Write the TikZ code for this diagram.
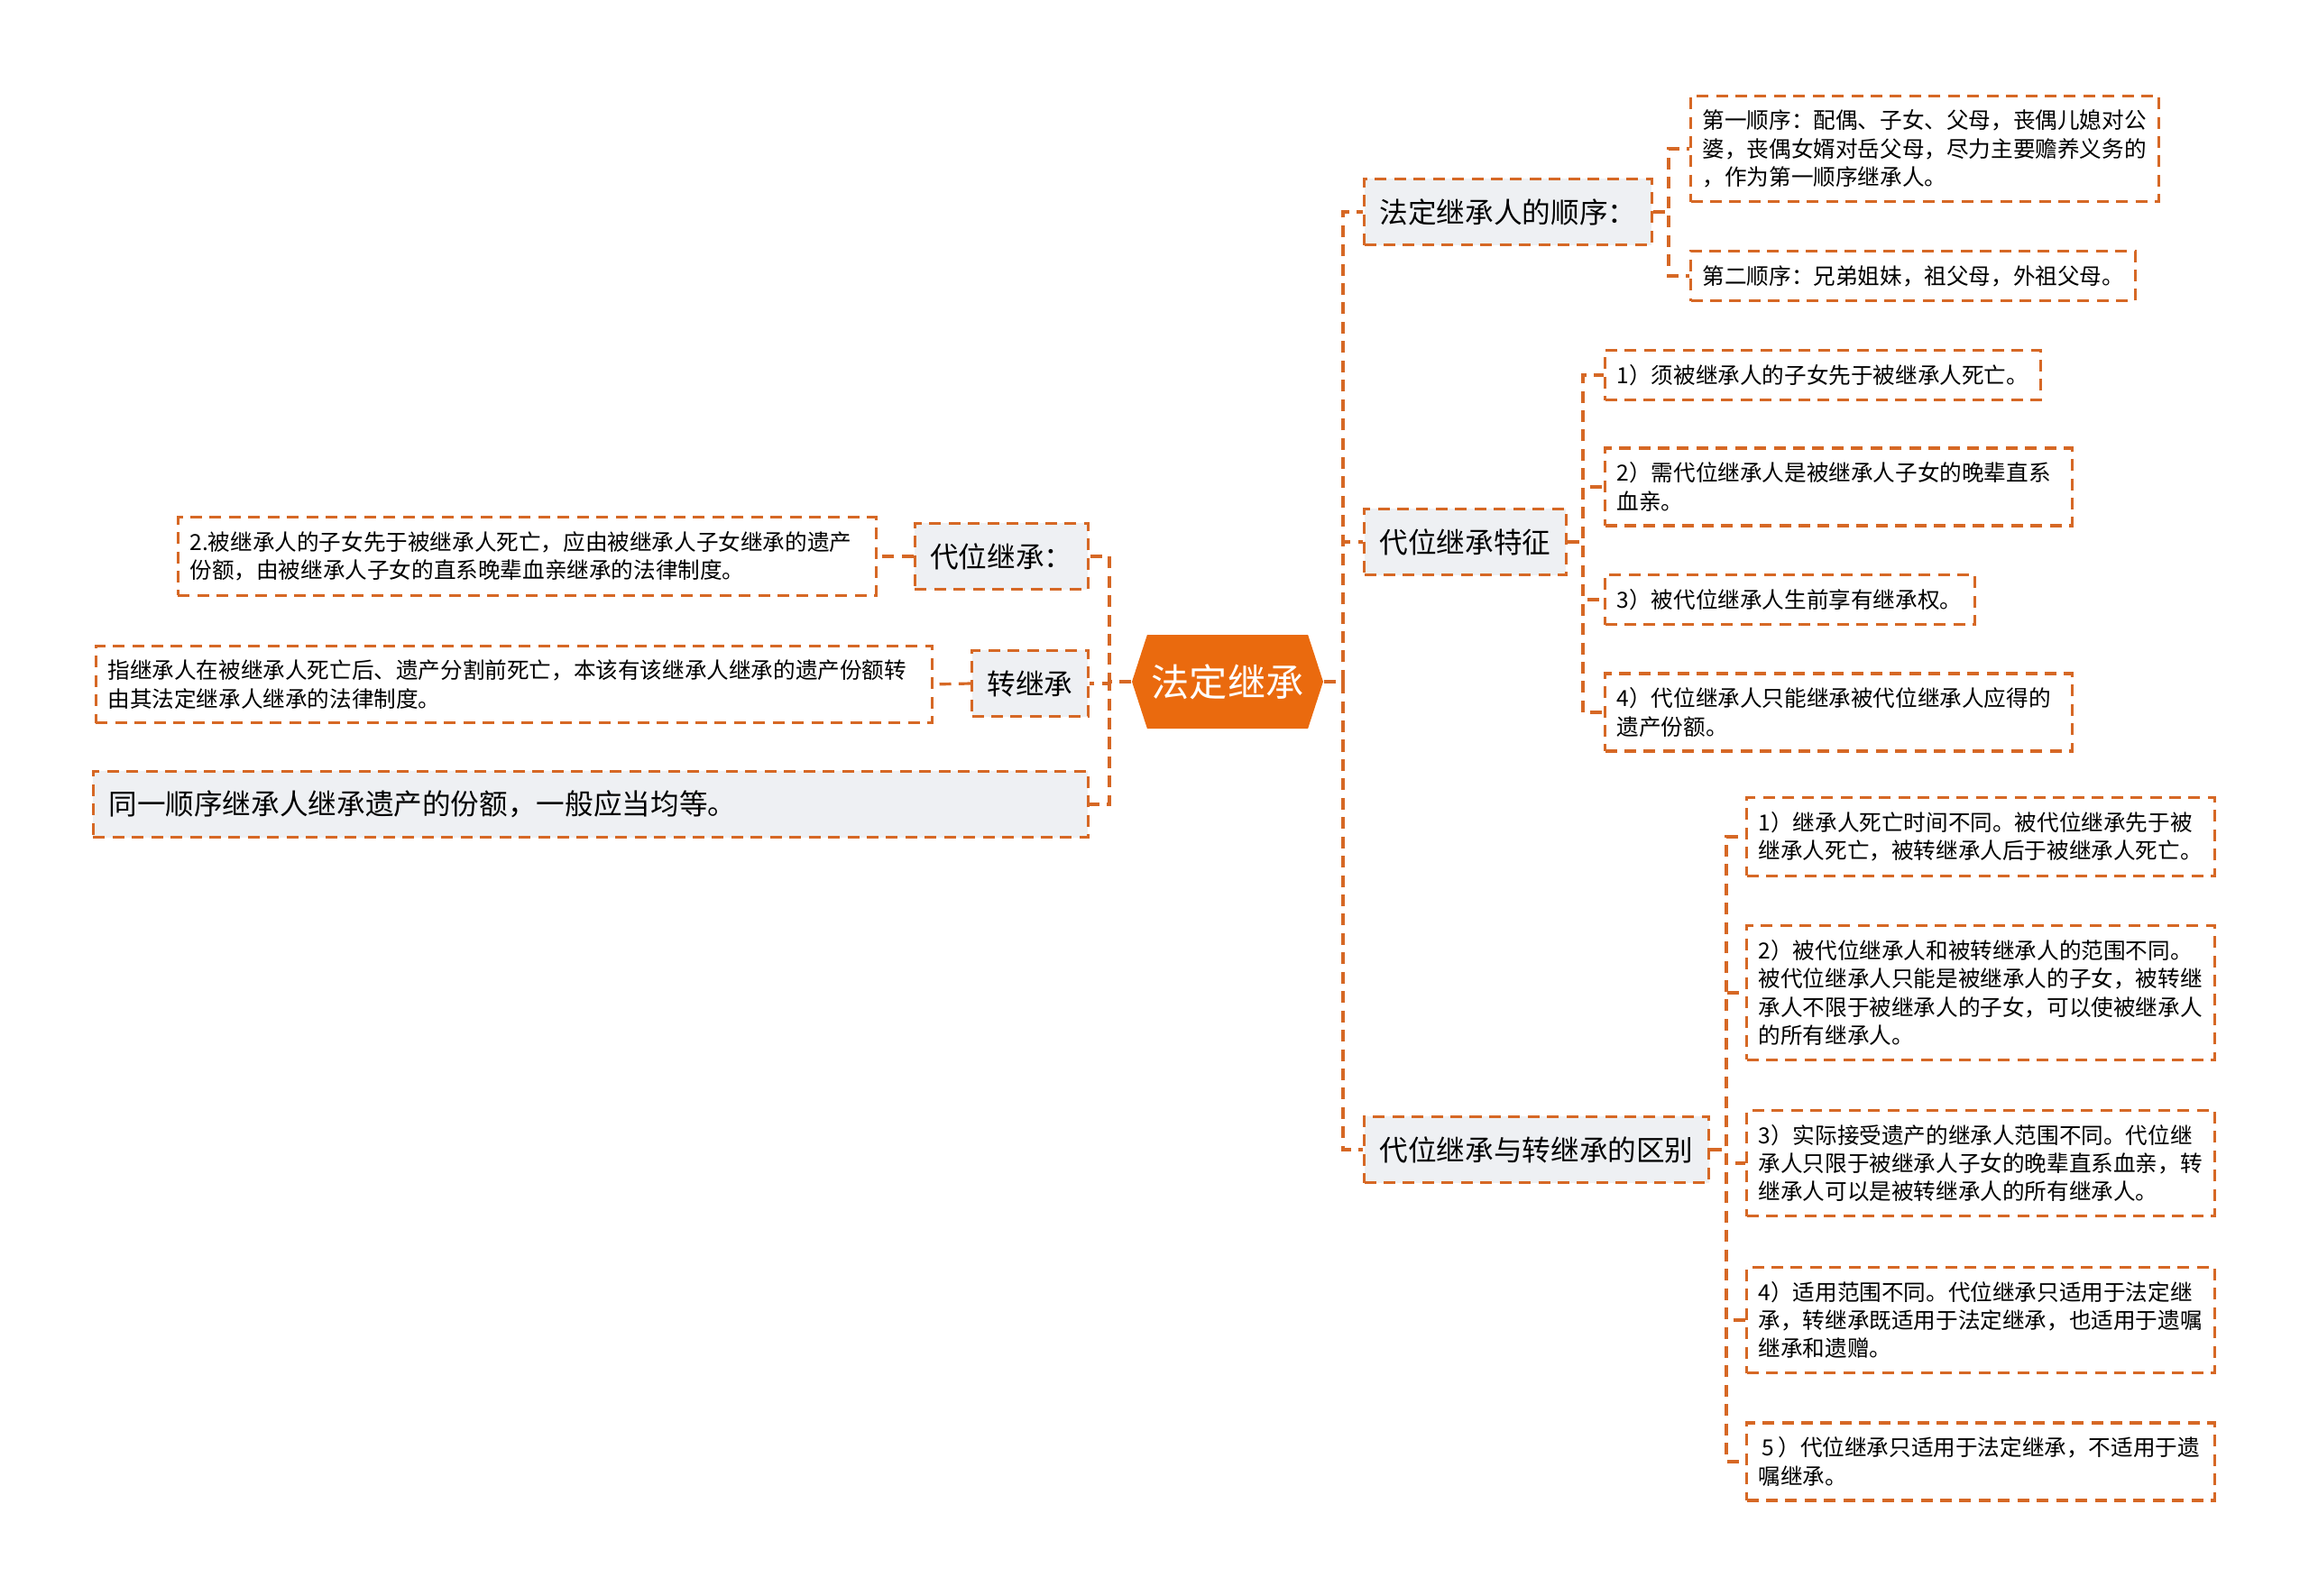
\documentclass[tikz,border=0pt]{standalone}
\usepackage{fontspec}
\setmainfont{Noto Sans CJK SC}
\usetikzlibrary{positioning,shapes.symbols,calc}
\definecolor{linkorange}{RGB}{214,104,37}
\definecolor{huborange}{RGB}{234,106,14}
\definecolor{topicgray}{RGB}{238,240,243}

\begin{document}
\begin{tikzpicture}[
  link/.style={draw=linkorange, line width=0.9pt, dash pattern=on 3.7pt off 2.4pt},
  hub/.style={shape=signal, signal to=west and east, signal pointer angle=144, fill=huborange, text=white, minimum width=2.12cm, minimum height=1.04cm, inner sep=0pt, font=\fontsize{12}{14}\selectfont},
  topic/.style={draw=linkorange, line width=0.9pt, dash pattern=on 3.7pt off 2.4pt, fill=topicgray, minimum height=0.735cm, inner xsep=0.17cm, font=\fontsize{9}{11}\selectfont},
  leaf/.style={draw=linkorange, line width=0.9pt, dash pattern=on 3.7pt off 2.4pt, fill=white, align=left, inner xsep=0.13cm, inner ysep=4.5pt, font=\fontsize{7}{8.9}\selectfont}
]
\useasboundingbox (0,0) rectangle (25.6,-17.7);

\node[hub] (hub) at (13.61,-7.56) {法定继承};

% right side
\node[topic, anchor=west] (r1) at (15.11,-2.35) {法定继承人的顺序：};
\node[topic, anchor=west] (r2) at (15.11,-6.01) {代位继承特征};
\node[topic, anchor=west] (r3) at (15.11,-12.75) {代位继承与转继承的区别};

\node[leaf, anchor=west, text width=4.93cm] (r1a) at (18.73,-1.65) {第一顺序：配偶、子女、父母，丧偶儿媳对公\\婆，丧偶女婿对岳父母，尽力主要赡养义务的\\，作为第一顺序继承人。};
\node[leaf, anchor=west, text width=4.67cm] (r1b) at (18.73,-3.06) {第二顺序：兄弟姐妹，祖父母，外祖父母。};

\node[leaf, anchor=west, text width=4.57cm] (r2a) at (17.78,-4.16) {1）须被继承人的子女先于被继承人死亡。};
\node[leaf, anchor=west, text width=4.92cm] (r2b) at (17.78,-5.40) {2）需代位继承人是被继承人子女的晚辈直系\\血亲。};
\node[leaf, anchor=west, text width=3.84cm] (r2c) at (17.78,-6.65) {3）被代位继承人生前享有继承权。};
\node[leaf, anchor=west, text width=4.92cm] (r2d) at (17.78,-7.90) {4）代位继承人只能继承被代位继承人应得的\\遗产份额。};

\node[leaf, anchor=west, text width=4.93cm] (r3a) at (19.35,-9.28) {1）继承人死亡时间不同。被代位继承先于被\\继承人死亡，被转继承人后于被继承人死亡。};
\node[leaf, anchor=west, text width=4.93cm] (r3b) at (19.35,-11.01) {2）被代位继承人和被转继承人的范围不同。\\被代位继承人只能是被继承人的子女，被转继\\承人不限于被继承人的子女，可以使被继承人\\的所有继承人。};
\node[leaf, anchor=west, text width=4.93cm] (r3c) at (19.35,-12.90) {3）实际接受遗产的继承人范围不同。代位继\\承人只限于被继承人子女的晚辈直系血亲，转\\继承人可以是被转继承人的所有继承人。};
\node[leaf, anchor=west, text width=4.93cm] (r3d) at (19.35,-14.64) {4）适用范围不同。代位继承只适用于法定继\\承，转继承既适用于法定继承，也适用于遗嘱\\继承和遗赠。};
\node[leaf, anchor=west, text width=4.93cm] (r3e) at (19.35,-16.21) {\,5\,）代位继承只适用于法定继承，不适用于遗\\嘱继承。};

% left side
\node[topic, anchor=east] (l1) at (12.08,-6.17) {代位继承：};
\node[topic, anchor=east] (l2) at (12.08,-7.58) {转继承};
\node[topic, anchor=east, text width=10.69cm, align=left] (l3) at (12.08,-8.92) {同一顺序继承人继承遗产的份额，一般应当均等。};

\node[leaf, anchor=east, text width=7.48cm] (l1a) at (9.73,-6.17) {2.被继承人的子女先于被继承人死亡，应由被继承人子女继承的遗产\\份额，由被继承人子女的直系晚辈血亲继承的法律制度。};
\node[leaf, anchor=east, text width=9.01cm] (l2a) at (10.35,-7.59) {指继承人在被继承人死亡后、遗产分割前死亡，本该有该继承人继承的遗产份额转\\由其法定继承人继承的法律制度。};

% connectors
\coordinate (tr) at (14.89,0);
\coordinate (tl) at (12.30,0);
\coordinate (t1) at (18.50,0);
\coordinate (t2) at (17.55,0);
\coordinate (t3) at (19.14,0);
\foreach \c in {r1,r2,r3}
  \draw[link] (hub.east) -- (hub.east -| tr) |- (\c.west);
\foreach \c in {l1,l2,l3}
  \draw[link] (hub.west) -- (hub.west -| tl) |- (\c.east);
\foreach \c in {r1a,r1b}
  \draw[link] (r1.east) -- (r1.east -| t1) |- (\c.west);
\foreach \c in {r2a,r2b,r2c,r2d}
  \draw[link] (r2.east) -- (r2.east -| t2) |- (\c.west);
\foreach \c in {r3a,r3b,r3c,r3d,r3e}
  \draw[link] (r3.east) -- (r3.east -| t3) |- (\c.west);
\draw[link] (l1.west) -- (l1a.east);
\draw[link] (l2.west) -- (l2a.east);
\end{tikzpicture}
\end{document}
